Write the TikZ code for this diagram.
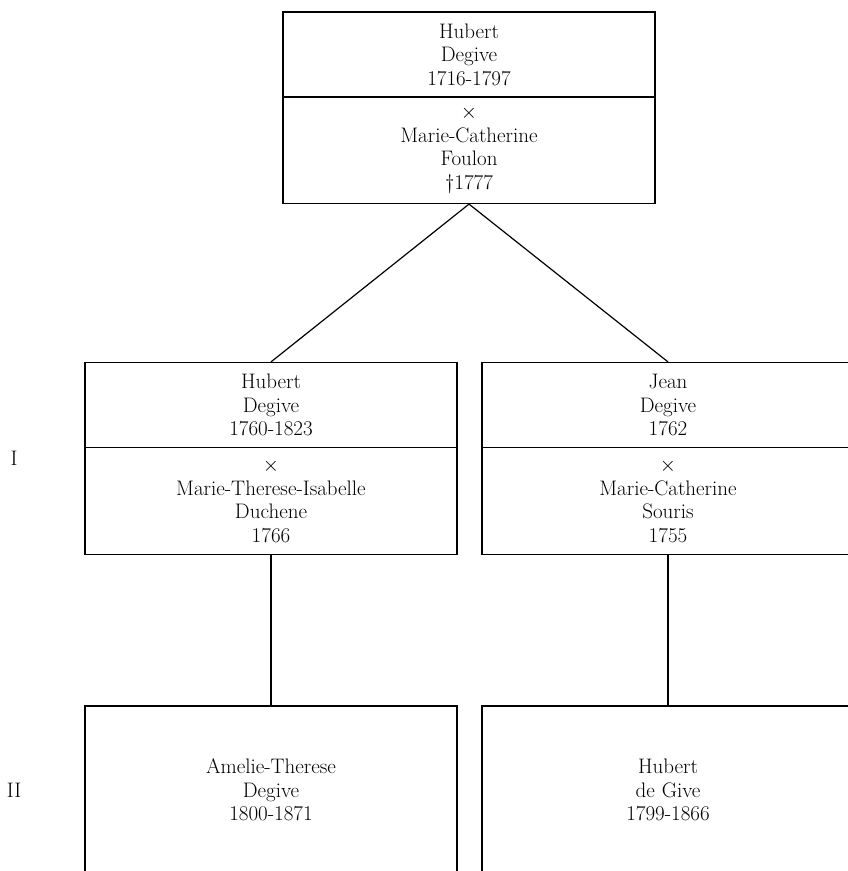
\documentclass[tikz,border=0pt]{standalone}
\usepackage{tikz}
\begin{document}
\begin{tikzpicture}[x=1pt, y=-1pt, line width=1.2pt,
  person/.style={draw, align=center, text width=360pt, minimum width=372pt, minimum height=85pt, inner sep=0pt, font=\fontsize{21}{23.5}\selectfont},
  spouse/.style={person, minimum height=107pt},
  child/.style={person, minimum height=168pt},
  generation/.style={font=\fontsize{21}{23.5}\selectfont}]
\useasboundingbox (0,0) rectangle (847,871);
\node[person] (n1) at (469,54.5) {Hubert\\Degive\\1716-1797};
\node[spouse] (n1s) at (469,150) {$\times$\\Marie-Catherine\\Foulon\\\dag1777};
\node[person] (n2) at (271,405) {Hubert\\Degive\\1760-1823};
\node[spouse] (n2s) at (271,501) {$\times$\\Marie-Therese-Isabelle\\Duchene\\1766};
\node[person] (n3) at (668,405) {Jean\\Degive\\1762};
\node[spouse] (n3s) at (668,501) {$\times$\\Marie-Catherine\\Souris\\1755};
\node[child] (n4) at (271,790) {Amelie-Therese\\Degive\\1800-1871};
\node[child] (n5) at (668,790) {Hubert\\de Give\\1799-1866};
\node[generation] (g1) at (14,458) {I};
\node[generation] (g2) at (14,790) {II};
\draw (n1s.south) -- (n2.north);
\draw (n1s.south) -- (n3.north);
\draw (n2s.south) -- (n4.north);
\draw (n3s.south) -- (n5.north);
\end{tikzpicture}
\end{document}
